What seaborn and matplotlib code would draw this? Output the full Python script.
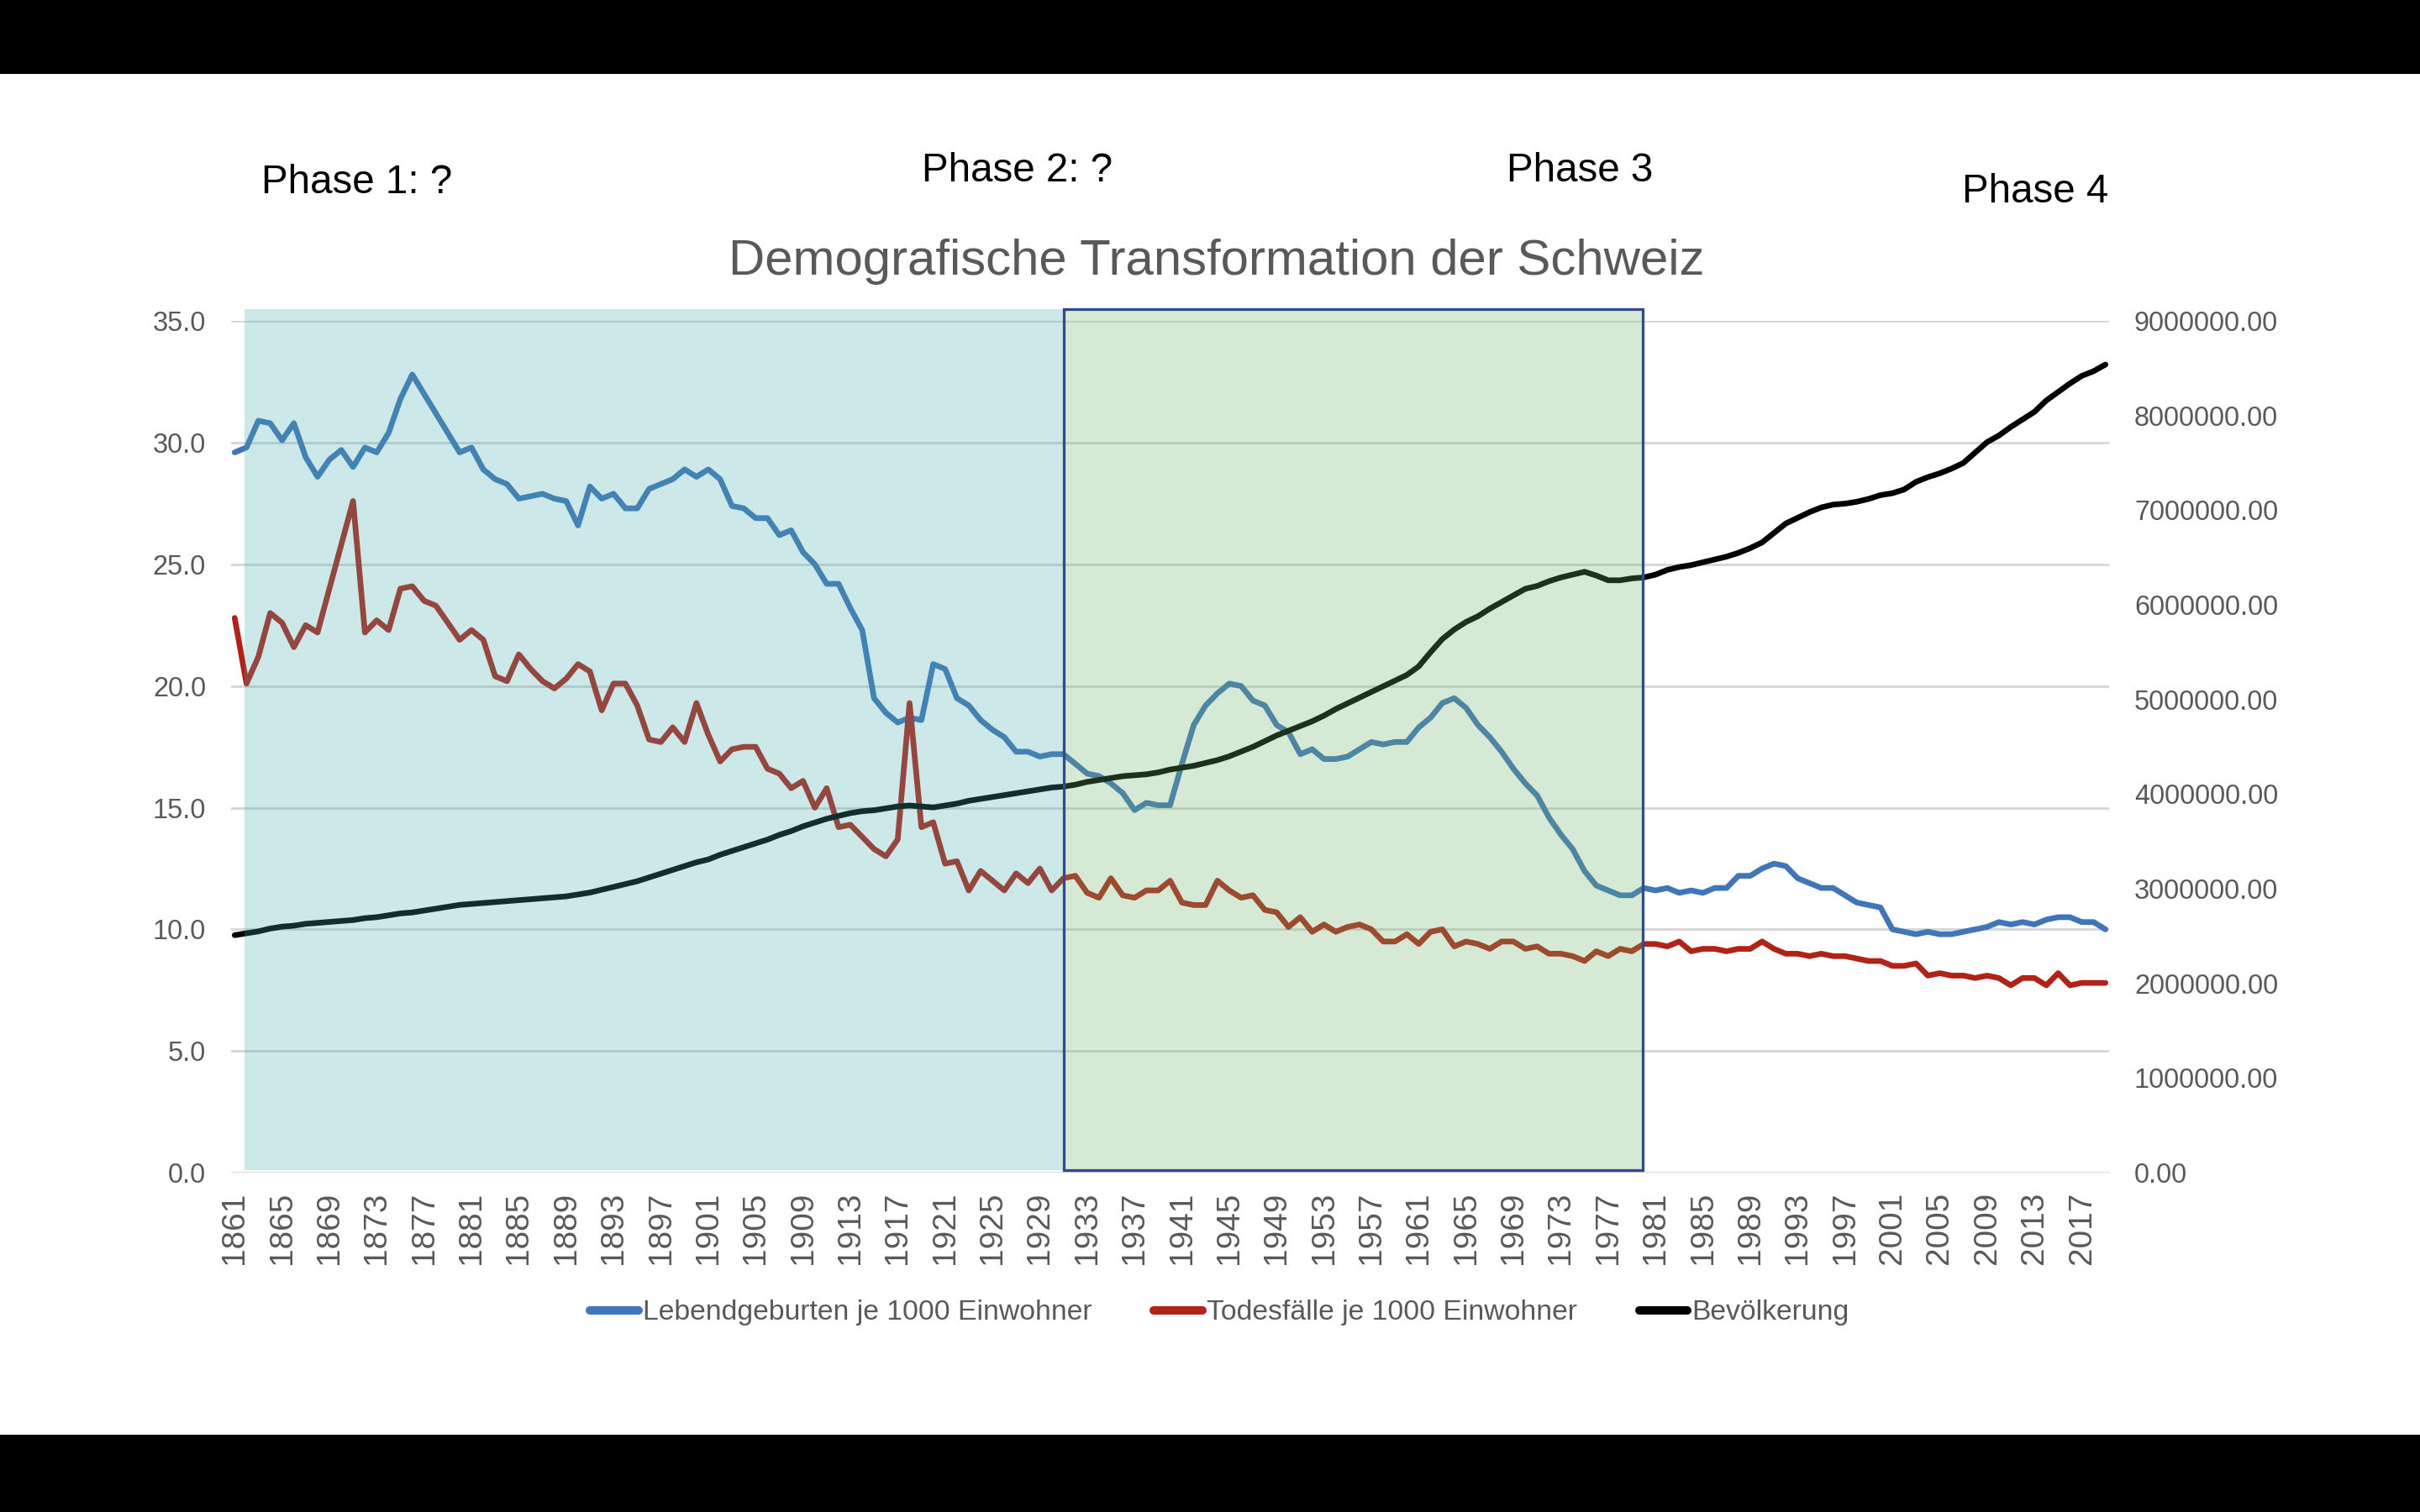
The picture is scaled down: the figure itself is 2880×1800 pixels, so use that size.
import numpy as np
import pandas as pd
import matplotlib.pyplot as plt
import seaborn as sns
from matplotlib.patches import Rectangle
from matplotlib.lines import Line2D
from matplotlib.colors import to_rgba
from matplotlib.ticker import FormatStrFormatter, MultipleLocator

# Grundstil
sns.set_theme(style="white")
plt.rcParams['font.family'] = ['Liberation Sans', 'DejaVu Sans']

# --- Daten ---
jahre = list(range(1861, 2020))

geburten = [
    29.6, 29.8, 30.9, 30.8, 30.1, 30.8, 29.4, 28.6, 29.3, 29.7,   # 1861-1870
    29.0, 29.8, 29.6, 30.4, 31.8, 32.8, 32.0, 31.2, 30.4, 29.6,   # 1871-1880
    29.8, 28.9, 28.5, 28.3, 27.7, 27.8, 27.9, 27.7, 27.6, 26.6,   # 1881-1890
    28.2, 27.7, 27.9, 27.3, 27.3, 28.1, 28.3, 28.5, 28.9, 28.6,   # 1891-1900
    28.9, 28.5, 27.4, 27.3, 26.9, 26.9, 26.2, 26.4, 25.5, 25.0,   # 1901-1910
    24.2, 24.2, 23.2, 22.3, 19.5, 18.9, 18.5, 18.7, 18.6, 20.9,   # 1911-1920
    20.7, 19.5, 19.2, 18.6, 18.2, 17.9, 17.3, 17.3, 17.1, 17.2,   # 1921-1930
    17.2, 16.8, 16.4, 16.3, 16.0, 15.6, 14.9, 15.2, 15.1, 15.1,   # 1931-1940
    16.8, 18.4, 19.2, 19.7, 20.1, 20.0, 19.4, 19.2, 18.4, 18.1,   # 1941-1950
    17.2, 17.4, 17.0, 17.0, 17.1, 17.4, 17.7, 17.6, 17.7, 17.7,   # 1951-1960
    18.3, 18.7, 19.3, 19.5, 19.1, 18.4, 17.9, 17.3, 16.6, 16.0,   # 1961-1970
    15.5, 14.6, 13.9, 13.3, 12.4, 11.8, 11.6, 11.4, 11.4, 11.7,   # 1971-1980
    11.6, 11.7, 11.5, 11.6, 11.5, 11.7, 11.7, 12.2, 12.2, 12.5,   # 1981-1990
    12.7, 12.6, 12.1, 11.9, 11.7, 11.7, 11.4, 11.1, 11.0, 10.9,   # 1991-2000
    10.0, 9.9, 9.8, 9.9, 9.8, 9.8, 9.9, 10.0, 10.1, 10.3,         # 2001-2010
    10.2, 10.3, 10.2, 10.4, 10.5, 10.5, 10.3, 10.3, 10.0,         # 2011-2019
]

todesfaelle = [
    22.8, 20.1, 21.2, 23.0, 22.6, 21.6, 22.5, 22.2, 24.0, 25.8,   # 1861-1870
    27.6, 22.2, 22.7, 22.3, 24.0, 24.1, 23.5, 23.3, 22.6, 21.9,   # 1871-1880
    22.3, 21.9, 20.4, 20.2, 21.3, 20.7, 20.2, 19.9, 20.3, 20.9,   # 1881-1890
    20.6, 19.0, 20.1, 20.1, 19.2, 17.8, 17.7, 18.3, 17.7, 19.3,   # 1891-1900
    18.0, 16.9, 17.4, 17.5, 17.5, 16.6, 16.4, 15.8, 16.1, 15.0,   # 1901-1910
    15.8, 14.2, 14.3, 13.8, 13.3, 13.0, 13.7, 19.3, 14.2, 14.4,   # 1911-1920
    12.7, 12.8, 11.6, 12.4, 12.0, 11.6, 12.3, 11.9, 12.5, 11.6,   # 1921-1930
    12.1, 12.2, 11.5, 11.3, 12.1, 11.4, 11.3, 11.6, 11.6, 12.0,   # 1931-1940
    11.1, 11.0, 11.0, 12.0, 11.6, 11.3, 11.4, 10.8, 10.7, 10.1,   # 1941-1950
    10.5, 9.9, 10.2, 9.9, 10.1, 10.2, 10.0, 9.5, 9.5, 9.8,        # 1951-1960
    9.4, 9.9, 10.0, 9.3, 9.5, 9.4, 9.2, 9.5, 9.5, 9.2,            # 1961-1970
    9.3, 9.0, 9.0, 8.9, 8.7, 9.1, 8.9, 9.2, 9.1, 9.4,             # 1971-1980
    9.4, 9.3, 9.5, 9.1, 9.2, 9.2, 9.1, 9.2, 9.2, 9.5,             # 1981-1990
    9.2, 9.0, 9.0, 8.9, 9.0, 8.9, 8.9, 8.8, 8.7, 8.7,             # 1991-2000
    8.5, 8.5, 8.6, 8.1, 8.2, 8.1, 8.1, 8.0, 8.1, 8.0,             # 2001-2010
    7.7, 8.0, 8.0, 7.7, 8.2, 7.7, 7.8, 7.8, 7.8,                  # 2011-2019
]

# Bevölkerung in Millionen
bevoelkerung_mio = [
    2.51, 2.53, 2.55, 2.58, 2.60, 2.61, 2.63, 2.64, 2.65, 2.66,   # 1861-1870
    2.67, 2.69, 2.70, 2.72, 2.74, 2.75, 2.77, 2.79, 2.81, 2.83,   # 1871-1880
    2.84, 2.85, 2.86, 2.87, 2.88, 2.89, 2.90, 2.91, 2.92, 2.94,   # 1881-1890
    2.96, 2.99, 3.02, 3.05, 3.08, 3.12, 3.16, 3.20, 3.24, 3.28,   # 1891-1900
    3.31, 3.36, 3.40, 3.44, 3.48, 3.52, 3.57, 3.61, 3.66, 3.70,   # 1901-1910
    3.74, 3.77, 3.80, 3.82, 3.83, 3.85, 3.87, 3.88, 3.87, 3.86,   # 1911-1920
    3.88, 3.90, 3.93, 3.95, 3.97, 3.99, 4.01, 4.03, 4.05, 4.07,   # 1921-1930
    4.08, 4.10, 4.13, 4.15, 4.17, 4.19, 4.20, 4.21, 4.23, 4.26,   # 1931-1940
    4.28, 4.30, 4.33, 4.36, 4.40, 4.45, 4.50, 4.56, 4.62, 4.67,   # 1941-1950
    4.72, 4.77, 4.83, 4.90, 4.96, 5.02, 5.08, 5.14, 5.20, 5.26,   # 1951-1960
    5.35, 5.50, 5.64, 5.74, 5.82, 5.88, 5.96, 6.03, 6.10, 6.17,   # 1961-1970
    6.20, 6.25, 6.29, 6.32, 6.35, 6.31, 6.26, 6.26, 6.28, 6.29,   # 1971-1980
    6.32, 6.37, 6.40, 6.42, 6.45, 6.48, 6.51, 6.55, 6.60, 6.66,   # 1981-1990
    6.76, 6.86, 6.92, 6.98, 7.03, 7.06, 7.07, 7.09, 7.12, 7.16,   # 1991-2000
    7.18, 7.22, 7.30, 7.35, 7.39, 7.44, 7.50, 7.61, 7.72, 7.79,   # 2001-2010
    7.88, 7.96, 8.04, 8.16, 8.25, 8.34, 8.42, 8.47, 8.54,         # 2011-2019
]

serien_namen = ["Lebendgeburten je 1000 Einwohner", "Todesfälle je 1000 Einwohner", "Bevölkerung"]
phasen_titel = ["Phase 1: ?", "Phase 2: ?", "Phase 3", "Phase 4"]
phasen_grenzen = [(1861.8, 1931.0), (1931.0, 1979.9)]  # Jahre der markierten Phasen

df = pd.DataFrame({
    "Jahr": jahre,
    "Geburten": geburten,
    "Todesfaelle": todesfaelle,
    "Bevoelkerung": np.array(bevoelkerung_mio) * 1e6,
})

BLAU = "#4175B9"
ROT = "#B02318"
SCHWARZ = "#000000"
GRAU = "#595959"
LW = 2.7

fig = plt.figure(figsize=(16, 10), dpi=180)
fig.patch.set_facecolor("white")
ax1 = fig.add_axes([0.0955, 0.2244, 0.776, 0.5633])
ax2 = ax1.twinx()

sns.lineplot(data=df, x="Jahr", y="Geburten", ax=ax1, color=BLAU, linewidth=LW, legend=False)
sns.lineplot(data=df, x="Jahr", y="Todesfaelle", ax=ax1, color=ROT, linewidth=LW, legend=False)
sns.lineplot(data=df, x="Jahr", y="Bevoelkerung", ax=ax2, color=SCHWARZ, linewidth=LW, legend=False)

# Achsen
ax1.set_xlim(1860.7, 2019.3)
ax1.set_ylim(0, 35)
ax2.set_ylim(0, 9e6)
ax1.yaxis.set_major_locator(MultipleLocator(5))
ax1.yaxis.set_major_formatter(FormatStrFormatter("%.1f"))
ax2.yaxis.set_major_locator(MultipleLocator(1e6))
ax2.yaxis.set_major_formatter(FormatStrFormatter("%.2f"))
ax1.set_xticks(jahre[::4])
ax1.set_xticklabels([str(j) for j in jahre[::4]], rotation=90)

ax1.grid(axis="y", color="#D5D5D5", linewidth=1.1)
ax1.grid(axis="x", visible=False)
ax2.grid(False)
for ax in (ax1, ax2):
    for s in ax.spines.values():
        s.set_visible(False)
    ax.tick_params(length=0, labelsize=13, colors=GRAU)
    ax.set_xlabel("")
    ax.set_ylabel("")
ax1.tick_params(axis="y", pad=12)
ax2.tick_params(axis="y", pad=12)
ax1.tick_params(axis="x", pad=9, labelsize=15.5)

# Phasen-Markierungen (halbtransparent über den Linien)
trans = ax2.get_xaxis_transform()
y_unten, y_oben = 0.12 / 35, 35.5 / 35
a0, a1 = phasen_grenzen[0]
ax2.add_patch(Rectangle((a0, y_unten), a1 - a0, y_oben - y_unten, transform=trans,
                        facecolor=to_rgba("#46AAAA", 0.27), edgecolor="none",
                        zorder=10, clip_on=False))
b0, b1 = phasen_grenzen[1]
ax2.add_patch(Rectangle((b0, y_unten), b1 - b0, y_oben - y_unten, transform=trans,
                        facecolor=to_rgba("#6BB36B", 0.28), edgecolor="#2F4B8A",
                        linewidth=1.3, zorder=11, clip_on=False))

# Titel und Phasen-Beschriftungen
fig.text(0.5026, 0.8267, "Demografische Transformation der Schweiz",
         ha="center", va="center", fontsize=24, color=GRAU)
phasen_pos = [(0.1476, 0.8794), (0.4202, 0.8867), (0.6528, 0.8867), (0.841, 0.8733)]
for titel, (px, py) in zip(phasen_titel, phasen_pos):
    fig.text(px, py, titel, ha="center", va="center", fontsize=19, color="black")

# Legende
handles = [Line2D([], [], color=c, linewidth=4, solid_capstyle="round") for c in (BLAU, ROT, SCHWARZ)]
fig.legend(handles, serien_namen, loc="center", bbox_to_anchor=(0.504, 0.1317), ncol=3,
           frameon=False, fontsize=13.5, handlelength=1.7, handletextpad=0.15,
           columnspacing=2.2, labelcolor=GRAU)

# schwarze Balken oben und unten
fig.add_artist(Rectangle((0, 1 - 0.0489), 1, 0.0489, transform=fig.transFigure,
                         facecolor="black", edgecolor="none"))
fig.add_artist(Rectangle((0, 0), 1, 0.0511, transform=fig.transFigure,
                         facecolor="black", edgecolor="none"))

fig.savefig("out.png", dpi=180)
